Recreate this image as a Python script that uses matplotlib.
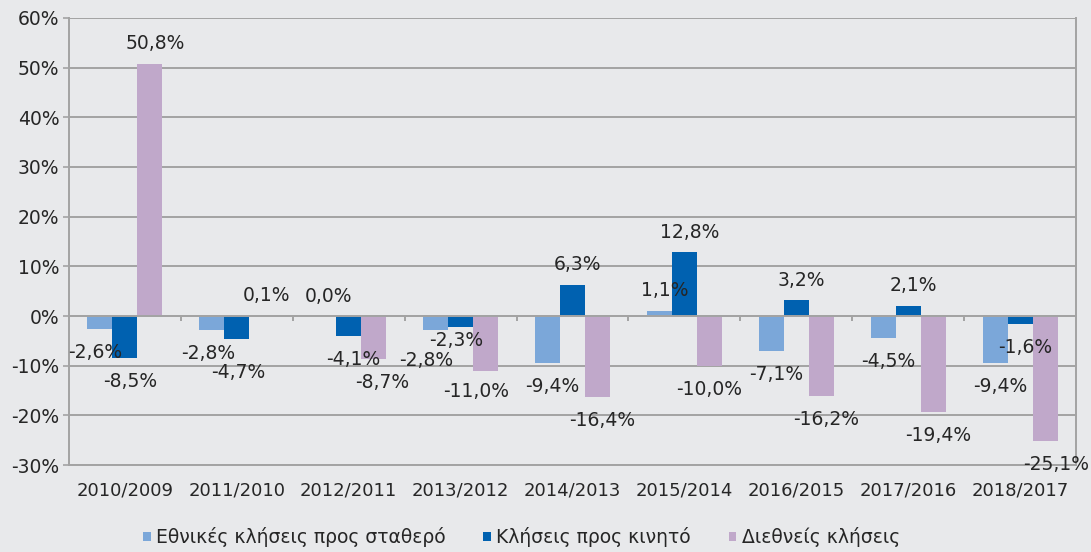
import matplotlib

matplotlib.use("Agg")
import matplotlib.pyplot as plt
import numpy as np
from matplotlib.ticker import FuncFormatter

categories = ["2010/2009", "2011/2010", "2012/2011", "2013/2012", "2014/2013",
              "2015/2014", "2016/2015", "2017/2016", "2018/2017"]
series_names = ["Εθνικές κλήσεις προς σταθερό", "Κλήσεις προς κινητό", "Διεθνείς κλήσεις"]
fixed = [-2.6, -2.8, 0.0, -2.8, -9.4, 1.1, -7.1, -4.5, -9.4]
mobile = [-8.5, -4.7, -4.1, -2.3, 6.3, 12.8, 3.2, 2.1, -1.6]
international = [50.8, 0.1, -8.7, -11.0, -16.4, -10.0, -16.2, -19.4, -25.1]

colors = ["#7ba7d9", "#0061b0", "#c0a8ca"]
bg = "#e8e9eb"
grid_color = "#a3a3a3"
text_color = "#262626"

# label nudges in pixels (category, series) -> (dx, dy), as the source arranged them
nudges = {
    (0, 0): (-10, 0), (1, 0): (-9, 0), (1, 1): (-4, -10), (2, 2): (4, 0),
    (3, 0): (-14, -7), (3, 1): (-9, 10), (3, 2): (-14, 3), (5, 2): (-5, 0),
    (8, 2): (6, 0),
}

plt.rcParams["font.family"] = ["DejaVu Sans"]

fig = plt.figure(figsize=(10.91, 5.52), dpi=100)
fig.patch.set_facecolor(bg)
ax = fig.add_axes([0.0632, 0.1576, 0.9231, 0.8098])
ax.set_facecolor(bg)

x = np.arange(len(categories))
width = 0.223
ymin, ymax = -30, 60

for k, (values, color) in enumerate(zip([fixed, mobile, international], colors)):
    pos = x + (k - 1) * width
    ax.bar(pos, values, width=width, color=color, zorder=3, label=series_names[k])
    for i, (xp, v) in enumerate(zip(pos, values)):
        dx, dy = nudges.get((i, k), (0, 0))
        offset = 20 if v >= 0 else -23.5
        # keep the label inside the plot area like the source
        yv = max(v, ymin + 4.6) if v < 0 else v
        ax.annotate(f"{v:.1f}%".replace(".", ","), (xp, yv), xytext=(5 + dx, offset + dy),
                    textcoords="offset pixels", ha="center", va="center",
                    fontsize=13.5, color=text_color, zorder=5)

ax.set_xlim(-0.5, len(categories) - 0.5)
ax.set_ylim(ymin, ymax)
ax.set_yticks(np.arange(ymin, ymax + 1, 10))
ax.yaxis.set_major_formatter(FuncFormatter(lambda v, _: f"{v:.0f}%"))
ax.set_xticks(x)
ax.set_xticklabels(categories)
ax.grid(axis="y", color=grid_color, linewidth=1.4, zorder=1)
ax.axhline(0, color=grid_color, linewidth=1.4, zorder=4)
ax.vlines(x[:-1] + 0.5, -1.0, 0, color=grid_color, linewidth=1.4, zorder=4)

ax.tick_params(axis="y", length=4, width=1.2, color=grid_color, labelsize=13.5,
               labelcolor=text_color, pad=3)
ax.tick_params(axis="x", length=0, labelsize=13, labelcolor=text_color, pad=12)
for side, spine in ax.spines.items():
    spine.set_color(grid_color)
    spine.set_linewidth(1.4)
ax.spines["top"].set_visible(False)

fig.legend(loc="center", bbox_to_anchor=(0.478, 0.027), ncol=3, frameon=False,
           fontsize=13.5, handlelength=0.4, handleheight=0.4, handletextpad=0.3,
           columnspacing=2.0, labelcolor=text_color)

fig.savefig("out.png", dpi=100, facecolor=bg)
